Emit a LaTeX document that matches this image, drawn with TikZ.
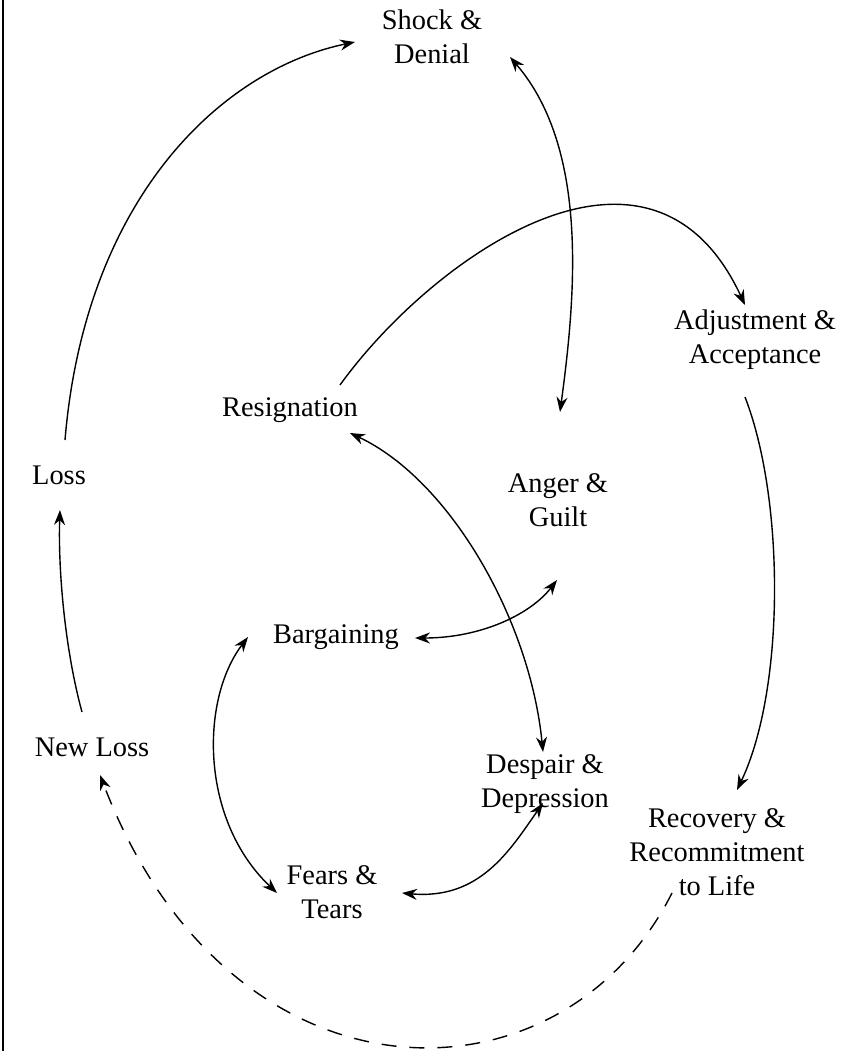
\documentclass[tikz,border=0pt]{standalone}
\usepackage{fontspec}
\setmainfont{Liberation Serif}
\usetikzlibrary{arrows.meta}
\usetikzlibrary{calc}

\tikzset{
  stage/.style={align=center, inner sep=0pt, font=\fontsize{14.2pt}{17pt}\selectfont},
  link/.style={line width=0.7pt, -{Stealth[length=7.5pt, width=5.5pt]}},
  twoway/.style={line width=0.7pt, {Stealth[length=7.5pt, width=5.5pt]}-{Stealth[length=7.5pt, width=5.5pt]}},
  dashlink/.style={link, dash pattern=on 7.5pt off 6.5pt}
}

\begin{document}
\begin{tikzpicture}[x=0.5pt, y=-0.5pt]
\useasboundingbox (0, 0) rectangle (846, 1051);
\draw[line width=0.75pt] (3, 0) -- (3, 1051);

\node[stage] (shock)    at (432,  37) {Shock \&\\Denial};
\node[stage] (adjust)   at (755, 340) {Adjustment \&\\Acceptance};
\node[stage] (resign)   at (290, 410) {Resignation};
\node[stage] (loss)     at ( 59, 475) {Loss};
\node[stage] (anger)    at (558, 500) {Anger \&\\Guilt};
\node[stage] (bargain)  at (336, 637) {Bargaining};
\node[stage] (newloss)  at ( 92, 747) {New Loss};
\node[stage] (despair)  at (545, 784) {Despair \&\\Depression};
\node[stage] (recovery) at (717, 852) {Recovery \&\\Recommitment\\to Life};
\node[stage] (fears)    at (332, 892) {Fears \&\\Tears};

\draw[link] ($(loss)+(6,-35)$) .. controls (85, 200) and (220, 70) .. ($(shock)+(-77,5)$);
\draw[twoway] ($(shock)+(78,20)$) .. controls (590, 150) and (575, 300) .. ($(anger)+(2,-88)$);
\draw[link] ($(resign)+(50,-25)$) .. controls (430, 260) and (650, 100) .. ($(adjust)+(-10,-35)$);
\draw[link] ($(adjust)+(-10,57)$) .. controls (785, 500) and (785, 690) .. ($(recovery)+(20,-62)$);
\draw[twoway] ($(resign)+(60,23)$) .. controls (450, 480) and (530, 620) .. ($(despair)+(-2,-32)$);
\draw[twoway] ($(anger)+(-1,80)$) .. controls (530, 615) and (480, 638) .. ($(bargain)+(79,1)$);
\draw[twoway] ($(bargain)+(-88,0)$) .. controls (200, 700) and (200, 820) .. ($(fears)+(-55,1)$);
\draw[twoway] ($(fears)+(70,1)$) .. controls (480, 900) and (510, 850) .. ($(despair)+(-2,19)$);
\draw[link] ($(newloss)+(-10,-35)$) .. controls (65, 650) and (58, 570) .. ($(loss)+(1,35)$);
\draw[dashlink] ($(recovery)+(-45,41)$) .. controls (560, 1115) and (230, 1115) .. ($(newloss)+(8,28)$);

\end{tikzpicture}
\end{document}
